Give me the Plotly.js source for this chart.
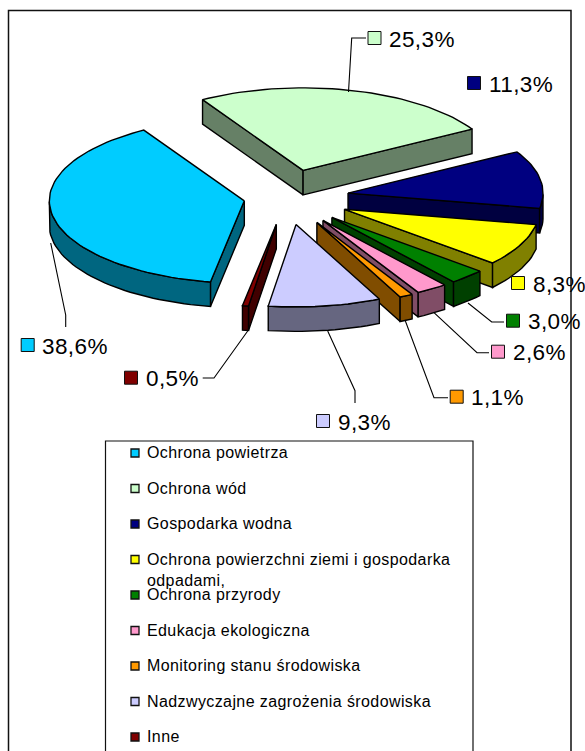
<!DOCTYPE html>
<html>
<head>
<meta charset="utf-8">
<script src="https://cdn.plot.ly/plotly-3.0.1.min.js"></script>
<style>html,body{margin:0;padding:0;background:#fff}#chart{width:585px;height:751px}
.annotation-text{letter-spacing:.4px}</style>
</head>
<body>
<div id="chart"></div>
<script>
// ---- data ----
const categories = ["Ochrona powietrza","Ochrona wód","Gospodarka wodna",
  "Ochrona powierzchni ziemi i gospodarka<br>odpadami,","Ochrona przyrody","Edukacja ekologiczna",
  "Monitoring stanu środowiska","Nadzwyczajne zagrożenia środowiska","Inne"];
const values = [38.6,25.3,11.3,8.3,3.0,2.6,1.1,9.3,0.5];
const topColors  = ["#00CCFF","#CCFFCC","#000080","#FFFF00","#008000","#FF99CC","#FF9900","#CCCCFF","#800000"];
const sideColors = ["#006680","#668066","#000040","#808000","#004000","#804D66","#804D00","#666680","#400000"];
const pulls = [0.22,0.34,0.32,0.33,0.335,0.335,0.34,0.33,0.33];

// ---- pie geometry (pixels on the hidden axes) ----
const CX=286.5, CY=197.5, RX=195, RY=82.5, DEPTH=24.5, START=260;
const EDGE={color:"#000",width:1.4};
const rad=d=>d*Math.PI/180;
let traces=[];
function poly(xs,ys,color){
  traces.push({type:"scatter",mode:"lines",x:xs.concat(xs[0]),y:ys.concat(ys[0]),fill:"toself",
    fillcolor:color,line:EDGE,hoverinfo:"skip",showlegend:false});
}
let a=START;
const slices=values.map((v,i)=>{
  const sweep=v*3.6, t0=a, t1=a-sweep, m=(t0+t1)/2; a=t1;
  return {i,t0,t1,m,
    ax:CX+pulls[i]*RX*Math.cos(rad(m)), ay:CY-pulls[i]*RY*Math.sin(rad(m))};
});
slices.slice().sort((p,q)=>p.ay-q.ay).forEach(s=>{
  const pt=t=>[s.ax+RX*Math.cos(rad(t)), s.ay-RY*Math.sin(rad(t))];
  const mv=[RX*Math.cos(rad(s.m)),-RY*Math.sin(rad(s.m))];
  // radial walls: visible when the slice lies on the upper side of the edge
  [s.t0,s.t1].forEach(t=>{
    const e=[RX*Math.cos(rad(t)),-RY*Math.sin(rad(t))];
    let n=[e[1],-e[0]]; if(n[1]>0) n=[-n[0],-n[1]];
    if(n[0]*mv[0]+n[1]*mv[1]>0){
      const p=pt(t);
      poly([s.ax,p[0],p[0],s.ax],[s.ay,p[1],p[1]+DEPTH,s.ay+DEPTH],sideColors[s.i]);
    }
  });
  // arc samples
  const n=Math.max(4,Math.ceil((s.t0-s.t1)/2));
  const ts=[];for(let k=0;k<=n;k++)ts.push(s.t0+(s.t1-s.t0)*k/n);
  // outer wall on the front half of the rim
  const front=ts.filter(t=>Math.sin(rad(t))<=0.0001);
  if(front.length>1){
    const xs=front.map(t=>pt(t)[0]), ys=front.map(t=>pt(t)[1]);
    poly(xs.concat(xs.slice().reverse()),ys.concat(ys.slice().reverse().map(y=>y+DEPTH)),sideColors[s.i]);
  }
  // top face
  poly([s.ax].concat(ts.map(t=>pt(t)[0])),[s.ay].concat(ts.map(t=>pt(t)[1])),topColors[s.i]);
});

// ---- leader lines ----
const leaders=[
  {x:[50.7,65.7,65.7],y:[243,315,327]},
  {x:[348.5,351.7,366],y:[92,38,38]},
  {x:[468,491.7,504],y:[303,322,322]},
  {x:[434,477,489],y:[312.7,352.7,352.7]},
  {x:[405,434,448],y:[320,397.7,397.7]},
  {x:[327.7,355,355],y:[331,390.7,403]},
  {x:[247.7,214,202.7],y:[331,378,378]}
];
leaders.forEach(l=>traces.push({type:"scatter",mode:"lines",x:l.x,y:l.y,
  line:{color:"#000",width:1.1},hoverinfo:"skip",showlegend:false}));

// ---- data labels ----
const labelX=[27.7,374.5,474,518,513,498,456.7,323,131];
const labelY=[345,38,83,283,320.7,351.7,396.7,421,377.7];
const annotations=[];
traces.push({type:"scatter",mode:"markers",x:labelX,y:labelY,hoverinfo:"skip",showlegend:false,
  marker:{symbol:"square",size:13,color:topColors,line:{color:"#111",width:1}}});
values.forEach((v,i)=>annotations.push({x:labelX[i]+13.5,y:labelY[i],yshift:-1,xref:"x",yref:"y",xanchor:"left",yanchor:"middle",
  showarrow:false,borderpad:0,text:v.toFixed(1).replace(".",",")+"%",font:{family:"Liberation Sans",size:22.5,color:"#000"}}));

// ---- legend ----
const legX=135, legY0=453, legStep=35.5;
const legY=categories.map((c,i)=>legY0+i*legStep);
traces.push({type:"scatter",mode:"markers",x:categories.map(()=>legX),y:legY,hoverinfo:"skip",showlegend:false,
  marker:{symbol:"square",size:8,color:topColors,line:{color:"#111",width:1.3}}});
categories.forEach((c,i)=>annotations.push({x:legX+10.5,y:legY[i]-10,xref:"x",yref:"y",xanchor:"left",yanchor:"top",align:"left",
  showarrow:false,borderpad:0,text:c,font:{family:"Liberation Sans",size:16,color:"#000"}}));

const shapes=[
  {type:"rect",xref:"x",yref:"y",x0:8.5,x1:571,y0:10.5,y1:770,line:{color:"#111",width:1.5},layer:"below"},
  {type:"rect",xref:"x",yref:"y",x0:105.5,x1:473,y0:441,y1:770,line:{color:"#111",width:1.2},layer:"below"}
];

Plotly.newPlot("chart",traces,{
  width:585,height:751,margin:{l:0,r:0,t:0,b:0},paper_bgcolor:"#fff",plot_bgcolor:"#fff",
  showlegend:false,hovermode:false,
  xaxis:{range:[0,585],visible:false,fixedrange:true},
  yaxis:{range:[751,0],visible:false,fixedrange:true},
  shapes,annotations
},{displayModeBar:false,staticPlot:true});
</script>
</body>
</html>
